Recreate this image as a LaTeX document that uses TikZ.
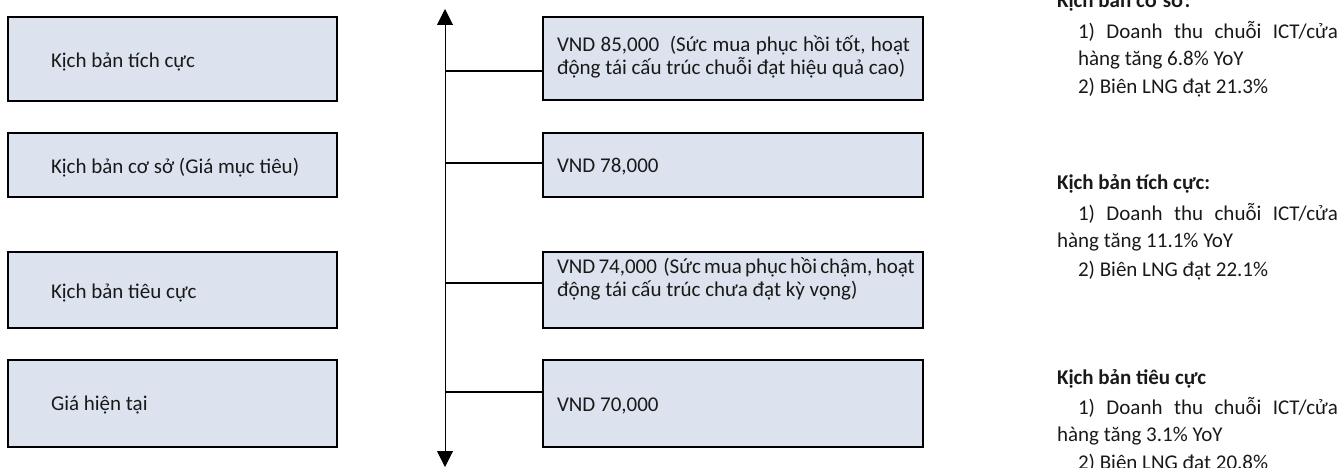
\documentclass[tikz,border=0pt]{standalone}
\usepackage{fontspec}
\setmainfont{Carlito}
\usetikzlibrary{arrows.meta}
\definecolor{boxfill}{RGB}{221,227,238}
\definecolor{txt}{RGB}{25,25,25}
\tikzset{
  box/.style={draw=black, line width=1.5pt, fill=boxfill, inner sep=0pt, outer sep=0pt},
  lbl/.style={anchor=base west, inner sep=0pt, outer sep=0pt, text=txt, font=\fontsize{21}{25}\selectfont},
  conn/.style={line width=1.3pt},
  axis/.style={line width=1pt, {Triangle[width=16pt,length=16pt]}-{Triangle[width=16pt,length=16pt]}},
}
\begin{document}
\begin{tikzpicture}[x=1pt,y=-1pt]
\useasboundingbox (0,0) rectangle (1343,468);
\clip (0,0) rectangle (1343,468);

% left boxes
\node[box, minimum width=329pt, minimum height=84pt] (l1) at (172.5,59) {};
\node[box, minimum width=329pt, minimum height=64pt] (l2) at (172.5,165) {};
\node[box, minimum width=329pt, minimum height=76pt] (l3) at (172.5,290) {};
\node[box, minimum width=329pt, minimum height=87pt] (l4) at (172.5,403.5) {};
\node[lbl] (t1) at (51,67.5) {Kịch bản tích cực};
\node[lbl] (t2) at (51,173.5) {Kịch bản cơ sở (Giá mục tiêu)};
\node[lbl] (t3) at (51,298.5) {Kịch bản tiêu cực};
\node[lbl] (t4) at (51,410.5) {Giá hiện tại};

% middle boxes
\node[box, minimum width=380pt, minimum height=83pt] (m1) at (733,58.5) {};
\node[box, minimum width=380pt, minimum height=64pt] (m2) at (733,165) {};
\node[box, minimum width=380pt, minimum height=76pt] (m3) at (733,290) {};
\node[box, minimum width=380pt, minimum height=87pt] (m4) at (733,403.5) {};
\node[lbl] (v1a) at (557,52) {\makebox[353pt][s]{VND 85,000\ \ (Sức mua phục hồi tốt, hoạt}};
\node[lbl] (v1b) at (557,75) {động tái cấu trúc chuỗi đạt hiệu quả cao)};
\node[lbl] (v2) at (557,172.5) {VND 78,000};
\node[lbl] (v3a) at (557,273) {\makebox[353pt][s]{VND 74,000\ \ (Sức mua phục hồi chậm, hoạt}};
\node[lbl] (v3b) at (557,296.5) {động tái cấu trúc chưa đạt kỳ vọng)};
\node[lbl] (v4) at (557,411) {VND 70,000};

% axis and connectors
\coordinate (axtop) at (445,9);
\coordinate (axbot) at (445,467);
\draw[axis] (axbot) -- (axtop);
\coordinate (c1) at (445,71);
\coordinate (c2) at (445,163);
\coordinate (c3) at (445,283);
\coordinate (c4) at (445,392);
\draw[conn] (c1) -- (c1 -| m1.west);
\draw[conn] (c2) -- (c2 -| m2.west);
\draw[conn] (c3) -- (c3 -| m3.west);
\draw[conn] (c4) -- (c4 -| m4.west);

% right notes
\node[lbl] (h1) at (1057,7.5) {\bfseries Kịch bản cơ sở:};
\node[lbl] (r1a) at (1078,39) {\makebox[260pt][s]{1) Doanh thu chuỗi ICT/cửa}};
\node[lbl] (r1b) at (1078,66) {hàng tăng 6.8\% YoY};
\node[lbl] (r1c) at (1078,94) {2) Biên LNG đạt 21.3\%};
\node[lbl] (h2) at (1057,189) {\bfseries Kịch bản tích cực:};
\node[lbl] (r2a) at (1078,220) {\makebox[260pt][s]{1) Doanh thu chuỗi ICT/cửa}};
\node[lbl] (r2b) at (1057,247) {hàng tăng 11.1\% YoY};
\node[lbl] (r2c) at (1078,276) {2) Biên LNG đạt 22.1\%};
\node[lbl] (h3) at (1057,384) {\bfseries Kịch bản tiêu cực};
\node[lbl] (r3a) at (1078,414) {\makebox[260pt][s]{1) Doanh thu chuỗi ICT/cửa}};
\node[lbl] (r3b) at (1057,441) {hàng tăng 3.1\% YoY};
\node[lbl] (r3c) at (1078,469) {2) Biên LNG đạt 20.8\%};
\end{tikzpicture}
\end{document}
